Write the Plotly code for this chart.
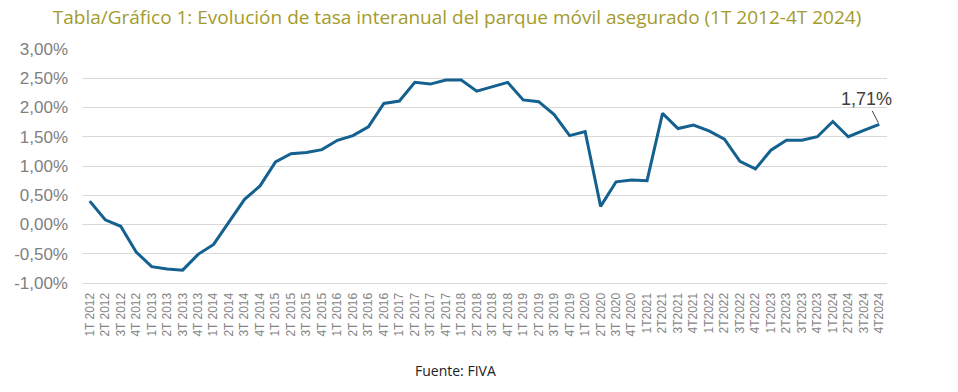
import plotly.graph_objects as go

years = list(range(2012, 2025))
quarters = []
for y in years:
    for q in range(1, 5):
        if y <= 2020:
            quarters.append(f"{q}T {y}")
        else:
            quarters.append(f"{q}T{y}")

rates = [
    0.40, 0.08, -0.03, -0.47, -0.72, -0.76, -0.78, -0.51, -0.34, 0.05, 0.43, 0.66,
    1.07, 1.21, 1.23, 1.28, 1.44, 1.52, 1.67, 2.07, 2.11, 2.43, 2.40, 2.47, 2.47,
    2.28, 2.35, 2.43, 2.13, 2.10, 1.88, 1.52, 1.59, 0.31, 0.73, 0.76, 0.75,
    1.90, 1.64, 1.70, 1.60, 1.46, 1.08, 0.95, 1.27, 1.44, 1.44, 1.50, 1.76,
    1.50, 1.61, 1.71,
]

ytick_vals = [-1.0, -0.5, 0.0, 0.5, 1.0, 1.5, 2.0, 2.5, 3.0]
ytick_text = ["-1,00%", "-0,50%", "0,00%", "0,50%", "1,00%", "1,50%", "2,00%", "2,50%", "3,00%"]

W, H = 958, 392

fig = go.Figure()
fig.add_trace(go.Scatter(
    x=quarters, y=rates, mode="lines",
    line=dict(color="#14618f", width=3),
    hoverinfo="skip",
))

fig.add_annotation(
    x=quarters[-1], y=rates[-1], xref="x", yref="y",
    text="1,71%", showarrow=True, arrowhead=0, arrowwidth=1, arrowcolor="#404040",
    ax=-13, ay=-25, standoff=2,
    font=dict(family="Liberation Sans, Arial", size=18, color="#404040"),
)

fig.add_annotation(
    xref="paper", yref="paper", x=(455 - 82) / 805, y=(283 - 370) / 234,
    text="Fuente: FIVA", showarrow=False, xanchor="center", yanchor="middle",
    font=dict(family="Open Sans", size=14, color="#222222"),
)

fig.update_layout(
    width=W, height=H,
    margin=dict(l=82, r=71, t=49, b=109),
    paper_bgcolor="white", plot_bgcolor="white",
    showlegend=False,
    hovermode=False,
    title=dict(
        text="Tabla/Gráfico 1: Evolución de tasa interanual del parque móvil asegurado (1T 2012-4T 2024)",
        x=457 / W, xref="container", xanchor="center",
        y=1 - 17 / H, yref="container", yanchor="middle",
        font=dict(family="Open Sans", size=19, color="#a39b2b"),
    ),
    xaxis=dict(
        type="category", tickangle=-90, showgrid=False,
        range=[-0.5, len(quarters) - 0.5],
        showline=True, linecolor="#d9d9d9", linewidth=1,
        ticks="", tickfont=dict(family="Liberation Sans, Arial", size=12, color="#858585"),
        ticklabelstandoff=4,
    ),
    yaxis=dict(
        range=[-1.0, 3.0], tickvals=ytick_vals, ticktext=ytick_text,
        showgrid=True, gridcolor="#d9d9d9", gridwidth=1, zeroline=False,
        ticks="", tickfont=dict(family="Liberation Sans, Arial", size=17, color="#808080"),
        ticklabelstandoff=13,
    ),
)

fig.write_html(
    "out.html",
    config={"displayModeBar": False, "staticPlot": True},
    post_script="document.body.style.margin='0';",
)
